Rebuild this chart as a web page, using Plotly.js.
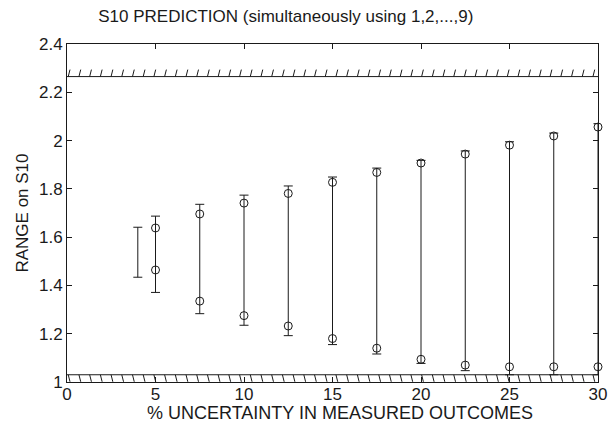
<!DOCTYPE html>
<html>
<head>
<meta charset="utf-8">
<script src="https://cdn.plot.ly/plotly-3.0.1.min.js"></script>
<style>html,body{margin:0;padding:0;background:#fff}#chart{width:611px;height:422px}</style>
</head>
<body>
<div id="chart"></div>
<script>
// Data
const xs       = [4, 5, 7.5, 10, 12.5, 15, 17.5, 20, 22.5, 25, 27.5, 30];
const capHigh  = [1.641, 1.687, 1.736, 1.774, 1.812, 1.849, 1.886, 1.918, 1.957, 1.995, 2.031, 2.07];
const capLow   = [1.434, 1.371, 1.283, 1.235, 1.192, 1.155, 1.116, 1.077, 1.047, 1.03, 1.03, 1.03];
const circHigh = [null, 1.638, 1.696, 1.741, 1.781, 1.827, 1.868, 1.907, 1.944, 1.981, 2.019, 2.056];
const circLow  = [null, 1.464, 1.335, 1.275, 1.232, 1.180, 1.140, 1.094, 1.070, 1.063, 1.063, 1.063];
const upperBound = 2.265;
const lowerBound = 1.03;
const xTicks = [0, 5, 10, 15, 20, 25, 30];
const yTicks = [1, 1.2, 1.4, 1.6, 1.8, 2, 2.2, 2.4];

const FONT = '"Liberation Sans", Arial, Helvetica, sans-serif';
const INK = '#1a1a1a';

// hatch decoration for the bound lines
function hatch(yBase, dy, dxTop) {
  const hx = [], hy = [];
  for (let xv = 0.07; xv < 30; xv += 0.605) {
    hx.push(xv, xv + dxTop, null);
    hy.push(yBase, yBase + dy, null);
  }
  return {hx, hy};
}
const up = hatch(upperBound, 0.029, 0.1);
const lo = hatch(lowerBound, -0.029, 0.1);

const traces = [
  {x: [0, 30], y: [upperBound, upperBound], mode: 'lines', line: {color: INK, width: 1}, hoverinfo: 'skip', cliponaxis: false},
  {x: up.hx, y: up.hy, mode: 'lines', line: {color: INK, width: 1}, hoverinfo: 'skip', connectgaps: false},
  {x: [0, 30], y: [lowerBound, lowerBound], mode: 'lines', line: {color: INK, width: 1}, hoverinfo: 'skip', cliponaxis: false},
  {x: lo.hx, y: lo.hy, mode: 'lines', line: {color: INK, width: 1}, hoverinfo: 'skip', connectgaps: false},
  {
    x: xs, y: capHigh, mode: 'markers', marker: {size: 1, opacity: 0},
    cliponaxis: false,
    error_y: {type: 'data', symmetric: false,
      array: xs.map(() => 0),
      arrayminus: capHigh.map((v, i) => v - capLow[i]),
      color: INK, thickness: 1, width: 4.5}
  },
  {
    x: xs.concat(xs), y: circHigh.concat(circLow), mode: 'markers',
    cliponaxis: false,
    marker: {symbol: 'circle-open', size: 8, color: INK, line: {width: 1, color: INK}}
  }
];

const axisCommon = {
  showgrid: false, zeroline: false, showline: true, mirror: 'ticks',
  linecolor: INK, linewidth: 1, ticks: 'inside', ticklen: 5, tickcolor: INK,
  tickfont: {family: FONT, size: 17, color: INK}, fixedrange: true
};

const layout = {
  width: 611, height: 422,
  margin: {l: 67, r: 13, t: 44, b: 40},
  paper_bgcolor: '#fff', plot_bgcolor: '#fff',
  showlegend: false,
  title: {text: 'S10 PREDICTION (simultaneously using 1,2,...,9)',
    font: {family: FONT, size: 17, color: INK},
    xref: 'paper', x: 0.412, xanchor: 'center', y: 0.962, yanchor: 'middle', yref: 'container'},
  xaxis: Object.assign({}, axisCommon, {
    range: [0, 30], tickvals: xTicks, ticktext: xTicks.map(String),
    ticklabelstandoff: -3,
    automargin: false
  }),
  yaxis: Object.assign({}, axisCommon, {
    range: [1, 2.4], tickvals: yTicks, ticktext: yTicks.map(String),
    title: {text: 'RANGE on S10', font: {family: FONT, size: 17, color: INK}, standoff: 6},
    automargin: false
  }),
  annotations: [{
    text: '% UNCERTAINTY IN MEASURED OUTCOMES', showarrow: false,
    xref: 'paper', yref: 'paper', x: 0.515, y: -0.091, xanchor: 'center', yanchor: 'middle',
    font: {family: FONT, size: 18, color: INK}
  }]
};

Plotly.newPlot('chart', traces, layout, {displayModeBar: false, staticPlot: true});
</script>
</body>
</html>
